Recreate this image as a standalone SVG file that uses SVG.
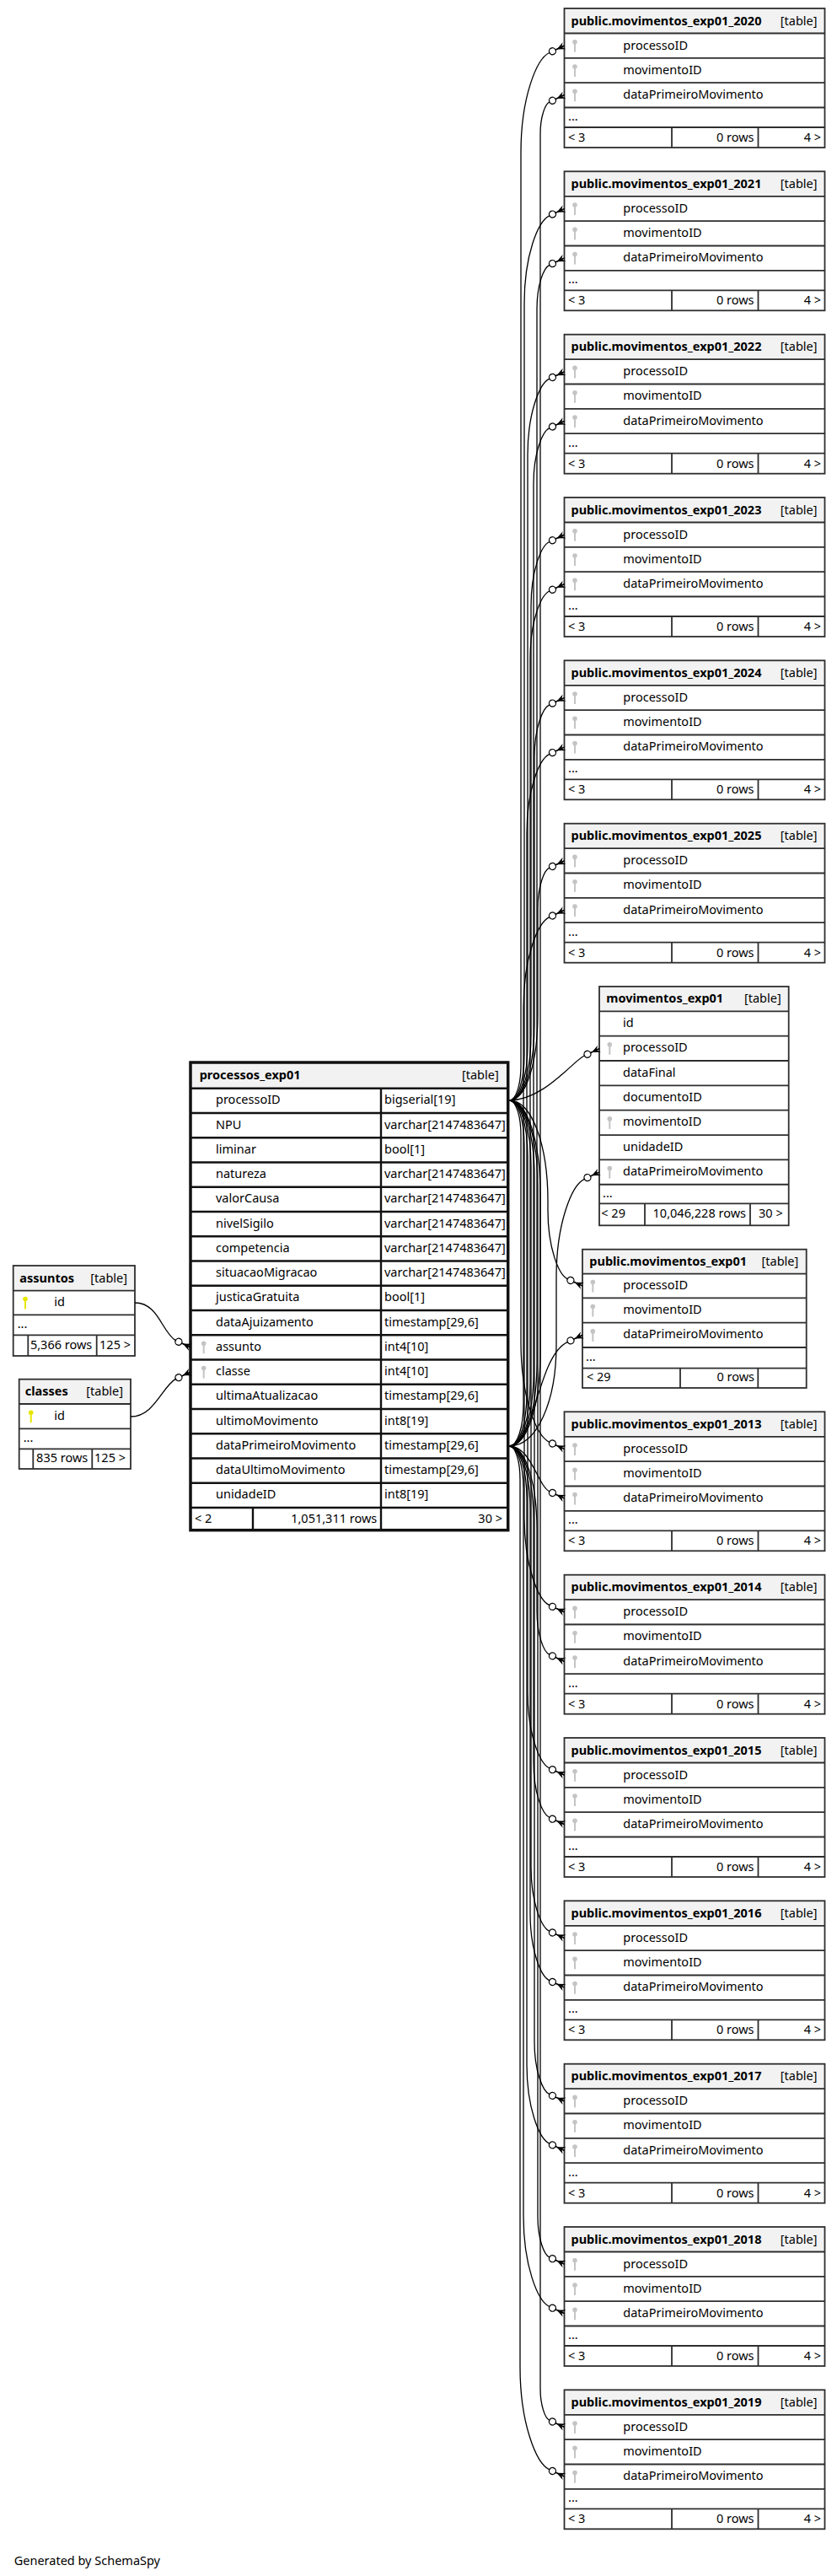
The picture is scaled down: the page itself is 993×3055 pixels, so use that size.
<svg xmlns="http://www.w3.org/2000/svg" xmlns:xlink="http://www.w3.org/1999/xlink" width="993" height="3055" viewBox="0 0 993 3055">
<style>
.t{font-family:"Noto Sans","Open Sans","DejaVu Sans",sans-serif;font-size:14.5px;fill:#000}
.b{font-weight:bold}
.e{text-anchor:end}
.bg{fill:#fff}
.hd{fill:#f2f2f2}
.gl{fill:none;stroke:#2e2e2e;stroke-width:1.8}
.bd{fill:none;stroke:#2e2e2e;stroke-width:1.8}
.gl2{fill:none;stroke:#111;stroke-width:2.4}
.bd2{fill:none;stroke:#111;stroke-width:3.5}
.edge{fill:none;stroke:#000;stroke-width:1.3;marker-end:url(#crow)}
</style>
<defs>
<marker id="crow" markerUnits="userSpaceOnUse" orient="auto" viewBox="-22 -7 26 14" refX="0" refY="0" markerWidth="26" markerHeight="14">
<path d="M0,-4.5 L-10,0 L0,4.5 L-3.5,0 Z" fill="#000"/>
<path d="M-11,0 H0" stroke="#000" stroke-width="1.3"/>
<circle cx="-15.5" cy="0" r="4" fill="#fff" stroke="#000" stroke-width="1.3"/>
</marker>
<g id="fk"><circle cx="0" cy="-4.5" r="2.8"/><rect x="-1" y="-2.5" width="2" height="10"/></g>
<g id="ytab">
<rect class="bg" width="309" height="165"/>
<rect class="hd" width="309" height="29.5"/>
<path class="gl" d="M0,29.5H309M0,58.8H309M0,88.2H309M0,117.5H309M0,141H309M127.5,141V165M230,141V165"/>
<rect class="bd" width="309" height="165"/>
<use href="#fk" x="12.5" y="44.2" fill="#c4c4c4"/>
<use href="#fk" x="12.5" y="73.5" fill="#c4c4c4"/>
<use href="#fk" x="12.5" y="102.8" fill="#c4c4c4"/>
</g>
</defs>
<rect width="993" height="3055" fill="#fff"/>

<g id="public.movimentos_exp01_2020" transform="translate(669.5,10)">
<use href="#ytab"/>
<text class="t b" x="8" y="19.5">public.movimentos_exp01_2020</text><text class="t e" x="300" y="19.5">[table]</text>
<text class="t" x="69.8" y="48.5">processoID</text><text class="t" x="69.8" y="77.8">movimentoID</text><text class="t" x="69.8" y="107">dataPrimeiroMovimento</text>
<text class="t" x="4.5" y="133">...</text>
<text class="t" x="4.5" y="158">&lt; 3</text><text class="t e" x="225" y="158">0 rows</text><text class="t e" x="304.5" y="158">4 &gt;</text>
</g>
<g id="public.movimentos_exp01_2021" transform="translate(669.5,203.3)">
<use href="#ytab"/>
<text class="t b" x="8" y="19.5">public.movimentos_exp01_2021</text><text class="t e" x="300" y="19.5">[table]</text>
<text class="t" x="69.8" y="48.5">processoID</text><text class="t" x="69.8" y="77.8">movimentoID</text><text class="t" x="69.8" y="107">dataPrimeiroMovimento</text>
<text class="t" x="4.5" y="133">...</text>
<text class="t" x="4.5" y="158">&lt; 3</text><text class="t e" x="225" y="158">0 rows</text><text class="t e" x="304.5" y="158">4 &gt;</text>
</g>
<g id="public.movimentos_exp01_2022" transform="translate(669.5,396.7)">
<use href="#ytab"/>
<text class="t b" x="8" y="19.5">public.movimentos_exp01_2022</text><text class="t e" x="300" y="19.5">[table]</text>
<text class="t" x="69.8" y="48.5">processoID</text><text class="t" x="69.8" y="77.8">movimentoID</text><text class="t" x="69.8" y="107">dataPrimeiroMovimento</text>
<text class="t" x="4.5" y="133">...</text>
<text class="t" x="4.5" y="158">&lt; 3</text><text class="t e" x="225" y="158">0 rows</text><text class="t e" x="304.5" y="158">4 &gt;</text>
</g>
<g id="public.movimentos_exp01_2023" transform="translate(669.5,590)">
<use href="#ytab"/>
<text class="t b" x="8" y="19.5">public.movimentos_exp01_2023</text><text class="t e" x="300" y="19.5">[table]</text>
<text class="t" x="69.8" y="48.5">processoID</text><text class="t" x="69.8" y="77.8">movimentoID</text><text class="t" x="69.8" y="107">dataPrimeiroMovimento</text>
<text class="t" x="4.5" y="133">...</text>
<text class="t" x="4.5" y="158">&lt; 3</text><text class="t e" x="225" y="158">0 rows</text><text class="t e" x="304.5" y="158">4 &gt;</text>
</g>
<g id="public.movimentos_exp01_2024" transform="translate(669.5,783.3)">
<use href="#ytab"/>
<text class="t b" x="8" y="19.5">public.movimentos_exp01_2024</text><text class="t e" x="300" y="19.5">[table]</text>
<text class="t" x="69.8" y="48.5">processoID</text><text class="t" x="69.8" y="77.8">movimentoID</text><text class="t" x="69.8" y="107">dataPrimeiroMovimento</text>
<text class="t" x="4.5" y="133">...</text>
<text class="t" x="4.5" y="158">&lt; 3</text><text class="t e" x="225" y="158">0 rows</text><text class="t e" x="304.5" y="158">4 &gt;</text>
</g>
<g id="public.movimentos_exp01_2025" transform="translate(669.5,976.7)">
<use href="#ytab"/>
<text class="t b" x="8" y="19.5">public.movimentos_exp01_2025</text><text class="t e" x="300" y="19.5">[table]</text>
<text class="t" x="69.8" y="48.5">processoID</text><text class="t" x="69.8" y="77.8">movimentoID</text><text class="t" x="69.8" y="107">dataPrimeiroMovimento</text>
<text class="t" x="4.5" y="133">...</text>
<text class="t" x="4.5" y="158">&lt; 3</text><text class="t e" x="225" y="158">0 rows</text><text class="t e" x="304.5" y="158">4 &gt;</text>
</g>
<g id="public.movimentos_exp01_2013" transform="translate(669.5,1674.3)">
<use href="#ytab"/>
<text class="t b" x="8" y="19.5">public.movimentos_exp01_2013</text><text class="t e" x="300" y="19.5">[table]</text>
<text class="t" x="69.8" y="48.5">processoID</text><text class="t" x="69.8" y="77.8">movimentoID</text><text class="t" x="69.8" y="107">dataPrimeiroMovimento</text>
<text class="t" x="4.5" y="133">...</text>
<text class="t" x="4.5" y="158">&lt; 3</text><text class="t e" x="225" y="158">0 rows</text><text class="t e" x="304.5" y="158">4 &gt;</text>
</g>
<g id="public.movimentos_exp01_2014" transform="translate(669.5,1867.7)">
<use href="#ytab"/>
<text class="t b" x="8" y="19.5">public.movimentos_exp01_2014</text><text class="t e" x="300" y="19.5">[table]</text>
<text class="t" x="69.8" y="48.5">processoID</text><text class="t" x="69.8" y="77.8">movimentoID</text><text class="t" x="69.8" y="107">dataPrimeiroMovimento</text>
<text class="t" x="4.5" y="133">...</text>
<text class="t" x="4.5" y="158">&lt; 3</text><text class="t e" x="225" y="158">0 rows</text><text class="t e" x="304.5" y="158">4 &gt;</text>
</g>
<g id="public.movimentos_exp01_2015" transform="translate(669.5,2061)">
<use href="#ytab"/>
<text class="t b" x="8" y="19.5">public.movimentos_exp01_2015</text><text class="t e" x="300" y="19.5">[table]</text>
<text class="t" x="69.8" y="48.5">processoID</text><text class="t" x="69.8" y="77.8">movimentoID</text><text class="t" x="69.8" y="107">dataPrimeiroMovimento</text>
<text class="t" x="4.5" y="133">...</text>
<text class="t" x="4.5" y="158">&lt; 3</text><text class="t e" x="225" y="158">0 rows</text><text class="t e" x="304.5" y="158">4 &gt;</text>
</g>
<g id="public.movimentos_exp01_2016" transform="translate(669.5,2254.3)">
<use href="#ytab"/>
<text class="t b" x="8" y="19.5">public.movimentos_exp01_2016</text><text class="t e" x="300" y="19.5">[table]</text>
<text class="t" x="69.8" y="48.5">processoID</text><text class="t" x="69.8" y="77.8">movimentoID</text><text class="t" x="69.8" y="107">dataPrimeiroMovimento</text>
<text class="t" x="4.5" y="133">...</text>
<text class="t" x="4.5" y="158">&lt; 3</text><text class="t e" x="225" y="158">0 rows</text><text class="t e" x="304.5" y="158">4 &gt;</text>
</g>
<g id="public.movimentos_exp01_2017" transform="translate(669.5,2447.7)">
<use href="#ytab"/>
<text class="t b" x="8" y="19.5">public.movimentos_exp01_2017</text><text class="t e" x="300" y="19.5">[table]</text>
<text class="t" x="69.8" y="48.5">processoID</text><text class="t" x="69.8" y="77.8">movimentoID</text><text class="t" x="69.8" y="107">dataPrimeiroMovimento</text>
<text class="t" x="4.5" y="133">...</text>
<text class="t" x="4.5" y="158">&lt; 3</text><text class="t e" x="225" y="158">0 rows</text><text class="t e" x="304.5" y="158">4 &gt;</text>
</g>
<g id="public.movimentos_exp01_2018" transform="translate(669.5,2641)">
<use href="#ytab"/>
<text class="t b" x="8" y="19.5">public.movimentos_exp01_2018</text><text class="t e" x="300" y="19.5">[table]</text>
<text class="t" x="69.8" y="48.5">processoID</text><text class="t" x="69.8" y="77.8">movimentoID</text><text class="t" x="69.8" y="107">dataPrimeiroMovimento</text>
<text class="t" x="4.5" y="133">...</text>
<text class="t" x="4.5" y="158">&lt; 3</text><text class="t e" x="225" y="158">0 rows</text><text class="t e" x="304.5" y="158">4 &gt;</text>
</g>
<g id="public.movimentos_exp01_2019" transform="translate(669.5,2834.3)">
<use href="#ytab"/>
<text class="t b" x="8" y="19.5">public.movimentos_exp01_2019</text><text class="t e" x="300" y="19.5">[table]</text>
<text class="t" x="69.8" y="48.5">processoID</text><text class="t" x="69.8" y="77.8">movimentoID</text><text class="t" x="69.8" y="107">dataPrimeiroMovimento</text>
<text class="t" x="4.5" y="133">...</text>
<text class="t" x="4.5" y="158">&lt; 3</text><text class="t e" x="225" y="158">0 rows</text><text class="t e" x="304.5" y="158">4 &gt;</text>
</g>

<g id="movimentos_exp01" transform="translate(711,1170)">
<rect class="bg" width="224.7" height="283.3"/>
<rect class="hd" width="224.7" height="29.3"/>
<path class="gl" d="M0,29.3H224.7M0,58.65H224.7M0,88H224.7M0,117.35H224.7M0,146.7H224.7M0,176.05H224.7M0,205.4H224.7M0,234.75H224.7M0,257.3H224.7M54,257.3V283.3M179,257.3V283.3"/>
<rect class="bd" width="224.7" height="283.3"/>
<use href="#fk" x="12.3" y="73.3" fill="#c4c4c4"/>
<use href="#fk" x="12.3" y="161.4" fill="#c4c4c4"/>
<use href="#fk" x="12.3" y="220.1" fill="#c4c4c4"/>
<text class="t b" x="8.3" y="19">movimentos_exp01</text><text class="t e" x="215.7" y="19">[table]</text>
<text class="t" x="28" y="48">id</text>
<text class="t" x="28" y="77.3">processoID</text>
<text class="t" x="28" y="106.7">dataFinal</text>
<text class="t" x="28" y="136">documentoID</text>
<text class="t" x="28" y="165.4">movimentoID</text>
<text class="t" x="28" y="194.7">unidadeID</text>
<text class="t" x="28" y="224.1">dataPrimeiroMovimento</text>
<text class="t" x="4" y="250">...</text>
<text class="t" x="2.3" y="274.3">&lt; 29</text><text class="t e" x="174" y="274.3">10,046,228 rows</text><text class="t e" x="217.7" y="274.3">30 &gt;</text>
</g>

<g id="public.movimentos_exp01" transform="translate(691,1481.7)">
<rect class="bg" width="265.7" height="164.3"/>
<rect class="hd" width="265.7" height="29"/>
<path class="gl" d="M0,29H265.7M0,57.6H265.7M0,87H265.7M0,116.3H265.7M0,141H265.7M116,141V164.3M208.3,141V164.3"/>
<rect class="bd" width="265.7" height="164.3"/>
<use href="#fk" x="12.3" y="43.3" fill="#c4c4c4"/>
<use href="#fk" x="12.3" y="72.3" fill="#c4c4c4"/>
<use href="#fk" x="12.3" y="101.7" fill="#c4c4c4"/>
<text class="t b" x="8.3" y="19">public.movimentos_exp01</text><text class="t e" x="256.3" y="19">[table]</text>
<text class="t" x="48.3" y="47.3">processoID</text>
<text class="t" x="48.3" y="76.3">movimentoID</text>
<text class="t" x="48.3" y="105.7">dataPrimeiroMovimento</text>
<text class="t" x="4" y="132">...</text>
<text class="t" x="5" y="156.7">&lt; 29</text><text class="t e" x="204" y="156.7">0 rows</text>
</g>

<g id="processos_exp01" transform="translate(226,1260)">
<rect class="bg" width="376.7" height="554.7"/>
<rect class="hd" width="376.7" height="30.7"/>
<path class="gl2" d="M0,30.7H376.7M0,59.95H376.7M0,89.2H376.7M0,118.45H376.7M0,147.7H376.7M0,176.95H376.7M0,206.2H376.7M0,235.45H376.7M0,264.7H376.7M0,293.95H376.7M0,323.2H376.7M0,352.45H376.7M0,381.7H376.7M0,410.95H376.7M0,440.2H376.7M0,469.45H376.7M0,498.7H376.7M0,527.95H376.7M226,30.7V554.7M74,527.95V554.7"/>
<rect class="bd2" width="376.7" height="554.7"/>
<use href="#fk" x="15.7" y="337.8" fill="#c4c4c4"/>
<use href="#fk" x="15.7" y="367.05" fill="#c4c4c4"/>
<text class="t b" x="10.7" y="20">processos_exp01</text><text class="t e" x="365.7" y="20">[table]</text>
<text class="t" x="30" y="49.3">processoID</text><text class="t" x="230" y="49.3">bigserial[19]</text>
<text class="t" x="30" y="78.6">NPU</text><text class="t" x="230" y="78.6">varchar[2147483647]</text>
<text class="t" x="30" y="107.8">liminar</text><text class="t" x="230" y="107.8">bool[1]</text>
<text class="t" x="30" y="137.1">natureza</text><text class="t" x="230" y="137.1">varchar[2147483647]</text>
<text class="t" x="30" y="166.3">valorCausa</text><text class="t" x="230" y="166.3">varchar[2147483647]</text>
<text class="t" x="30" y="195.6">nivelSigilo</text><text class="t" x="230" y="195.6">varchar[2147483647]</text>
<text class="t" x="30" y="224.8">competencia</text><text class="t" x="230" y="224.8">varchar[2147483647]</text>
<text class="t" x="30" y="254.1">situacaoMigracao</text><text class="t" x="230" y="254.1">varchar[2147483647]</text>
<text class="t" x="30" y="283.3">justicaGratuita</text><text class="t" x="230" y="283.3">bool[1]</text>
<text class="t" x="30" y="312.6">dataAjuizamento</text><text class="t" x="230" y="312.6">timestamp[29,6]</text>
<text class="t" x="30" y="341.8">assunto</text><text class="t" x="230" y="341.8">int4[10]</text>
<text class="t" x="30" y="371.1">classe</text><text class="t" x="230" y="371.1">int4[10]</text>
<text class="t" x="30" y="400.3">ultimaAtualizacao</text><text class="t" x="230" y="400.3">timestamp[29,6]</text>
<text class="t" x="30" y="429.6">ultimoMovimento</text><text class="t" x="230" y="429.6">int8[19]</text>
<text class="t" x="30" y="458.8">dataPrimeiroMovimento</text><text class="t" x="230" y="458.8">timestamp[29,6]</text>
<text class="t" x="30" y="488.1">dataUltimoMovimento</text><text class="t" x="230" y="488.1">timestamp[29,6]</text>
<text class="t" x="30" y="517.3">unidadeID</text><text class="t" x="230" y="517.3">int8[19]</text>
<text class="t" x="5" y="545.5">&lt; 2</text><text class="t e" x="221.3" y="545.5">1,051,311 rows</text><text class="t e" x="370" y="545.5">30 &gt;</text>
</g>

<g id="assuntos" transform="translate(15.7,1501)">
<rect class="bg" width="144.3" height="107"/>
<rect class="hd" width="144.3" height="29.7"/>
<path class="gl" d="M0,29.7H144.3M0,58.3H144.3M0,82.3H144.3M17.6,82.3V107M99,82.3V107"/>
<rect class="bd" width="144.3" height="107"/>
<use href="#fk" x="14.3" y="44" fill="#e6e600"/>
<text class="t b" x="7.6" y="19.5">assuntos</text><text class="t e" x="135.3" y="19.5">[table]</text>
<text class="t" x="48.6" y="48">id</text>
<text class="t" x="5" y="74">...</text>
<text class="t e" x="93.6" y="98.7">5,366 rows</text><text class="t e" x="139.3" y="98.7">125 &gt;</text>
</g>

<g id="classes" transform="translate(22.7,1635.7)">
<rect class="bg" width="132.3" height="106.3"/>
<rect class="hd" width="132.3" height="29.3"/>
<path class="gl" d="M0,29.3H132.3M0,58.6H132.3M0,82.6H132.3M16.6,82.6V106.3M86.6,82.6V106.3"/>
<rect class="bd" width="132.3" height="106.3"/>
<use href="#fk" x="14" y="44" fill="#e6e600"/>
<text class="t b" x="7" y="19.5">classes</text><text class="t e" x="123.3" y="19.5">[table]</text>
<text class="t" x="41.6" y="48">id</text>
<text class="t" x="5" y="74">...</text>
<text class="t e" x="81.6" y="98.5">835 rows</text><text class="t e" x="126.3" y="98.5">125 &gt;</text>
</g>

<g id="connectors">
<path class="edge" d="M604,1305 C612.4,1305 618,1286.1 618,1263 L618,180.8 C618,115.7 636.5,69.6 651.8,62.5 L669.5,54.2"/>
<path class="edge" d="M604,1305 C614.8,1305 622,1280.7 622,1251 L622,360.1 C622,302.7 638.3,262.1 651.8,255.8 L669.5,247.5"/>
<path class="edge" d="M604,1305 C617.2,1305 626,1275.3 626,1239 L626,539.5 C626,489.8 640.1,454.7 651.8,449.2 L669.5,440.9"/>
<path class="edge" d="M604,1305 C619.6,1305 630,1269.9 630,1227 L630,718.8 C630,676.8 641.9,647.1 651.8,642.5 L669.5,634.2"/>
<path class="edge" d="M604,1305 C622,1305 634,1264.5 634,1215 L634,898.1 C634,863.8 643.7,839.6 651.8,835.8 L669.5,827.5"/>
<path class="edge" d="M604,1305 C624.4,1305 638,1259.1 638,1203 L638,1077.5 C638,1050.9 645.5,1032.1 651.8,1029.2 L669.5,1020.9"/>
<path class="edge" d="M604,1715 C626.2,1715 641,1665 641,1604 L641,158.8 C641,138 646.9,123.3 651.8,121 L669.5,112.7"/>
<path class="edge" d="M604,1715 C623.8,1715 637,1670.4 637,1616 L637,366.1 C637,337.6 645.1,317.4 651.8,314.3 L669.5,306"/>
<path class="edge" d="M604,1715 C621.4,1715 633,1675.8 633,1628 L633,573.5 C633,537.3 643.3,511.7 651.8,507.7 L669.5,499.4"/>
<path class="edge" d="M604,1715 C619,1715 629,1681.2 629,1640 L629,780.8 C629,736.9 641.5,705.8 651.8,701 L669.5,692.7"/>
<path class="edge" d="M604,1715 C616.6,1715 625,1686.6 625,1652 L625,988.1 C625,936.5 639.7,900 651.8,894.3 L669.5,886"/>
<path class="edge" d="M604,1715 C614.2,1715 621,1692 621,1664 L621,1195.5 C621,1136.2 637.8,1094.2 651.8,1087.7 L669.5,1079.4"/>
<path class="edge" d="M604,1305 C645,1305 679.7,1258.3 693.3,1252 L711,1243.7"/>
<path class="edge" d="M604,1715 C637.6,1715 660,1661 660,1595 L660,1514.9 C660,1450.8 678.2,1405.4 693.3,1398.3 L711,1390"/>
<path class="edge" d="M604,1305 C631.6,1305 650,1359 650,1425 L650,1435.2 C650,1480 662.7,1511.8 673.3,1516.8 L691,1525"/>
<path class="edge" d="M604,1715 C635,1715 637.1,1608.5 673.3,1591.6 L691,1583.3"/>
<path class="edge" d="M604,1305 C612.4,1305 618,1323.9 618,1347 L618,1592 C618,1657.1 636.5,1703.2 651.8,1710.3 L669.5,1718.5"/>
<path class="edge" d="M604,1305 C614.8,1305 622,1329.3 622,1359 L622,1799.4 C622,1856.8 638.3,1897.4 651.8,1903.7 L669.5,1911.9"/>
<path class="edge" d="M604,1305 C617.2,1305 626,1334.7 626,1371 L626,2006.7 C626,2056.4 640.1,2091.5 651.8,2097 L669.5,2105.2"/>
<path class="edge" d="M604,1305 C619.6,1305 630,1340.1 630,1383 L630,2214 C630,2256 641.9,2285.7 651.8,2290.3 L669.5,2298.5"/>
<path class="edge" d="M604,1305 C622,1305 634,1345.5 634,1395 L634,2421.4 C634,2455.7 643.7,2479.9 651.8,2483.7 L669.5,2491.9"/>
<path class="edge" d="M604,1305 C624.4,1305 638,1350.9 638,1407 L638,2628.7 C638,2655.3 645.5,2674.1 651.8,2677 L669.5,2685.2"/>
<path class="edge" d="M604,1305 C626.2,1305 641,1355 641,1416 L641,2832.5 C641,2853.3 646.9,2868 651.8,2870.3 L669.5,2878.5"/>
<path class="edge" d="M604,1715 C630,1715 638,1762 651.8,1768.8 L669.5,1777"/>
<path class="edge" d="M604,1715 C623.8,1715 637,1759.6 637,1814 L637,1910.4 C637,1938.9 645.1,1959.1 651.8,1962.2 L669.5,1970.4"/>
<path class="edge" d="M604,1715 C621.4,1715 633,1754.2 633,1802 L633,2089.7 C633,2125.9 643.3,2151.5 651.8,2155.5 L669.5,2163.7"/>
<path class="edge" d="M604,1715 C619,1715 629,1748.8 629,1790 L629,2269 C629,2312.9 641.5,2344 651.8,2348.8 L669.5,2357"/>
<path class="edge" d="M604,1715 C616.6,1715 625,1743.4 625,1778 L625,2448.4 C625,2500 639.7,2536.5 651.8,2542.2 L669.5,2550.4"/>
<path class="edge" d="M604,1715 C614.2,1715 621,1738 621,1766 L621,2627.7 C621,2687 637.8,2729 651.8,2735.5 L669.5,2743.7"/>
<path class="edge" d="M604,1715 C611.8,1715 617,1733 617,1755 L617,2807 C617,2874 636,2921.4 651.8,2928.8 L669.5,2937"/>
<path class="edge" d="M160,1545 C188,1545 192,1580 208.3,1589.6 L226,1597.8"/>
<path class="edge" d="M155,1680 C183,1680 192,1645 208.3,1635.4 L226,1627.1"/>
</g>

<text class="t" x="16.7" y="3041.7">Generated by SchemaSpy</text>
</svg>
